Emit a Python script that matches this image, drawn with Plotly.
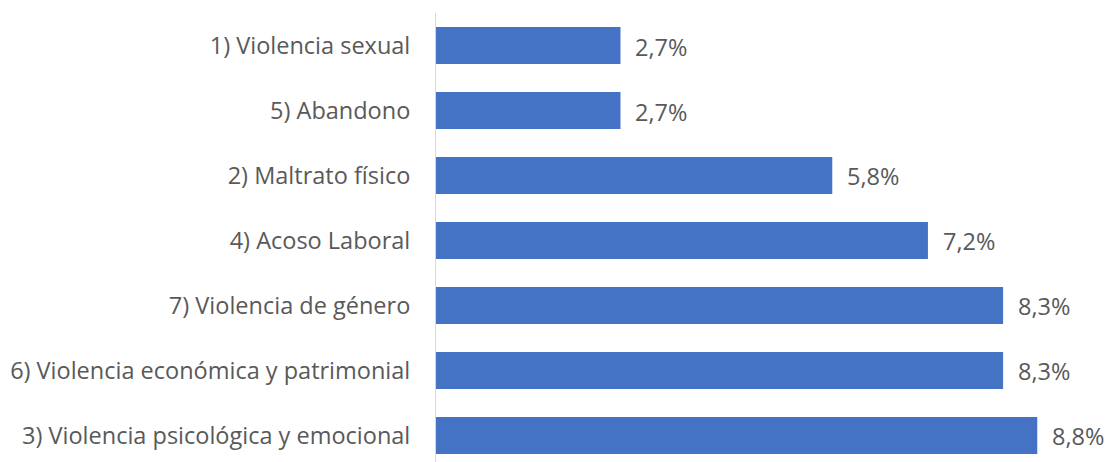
import plotly.graph_objects as go

categories = [
    "1) Violencia sexual",
    "5) Abandono",
    "2) Maltrato físico",
    "4) Acoso Laboral",
    "7) Violencia de género",
    "6) Violencia económica y patrimonial",
    "3) Violencia psicológica y emocional",
]
values = [2.7, 2.7, 5.8, 7.2, 8.3, 8.3, 8.8]
labels = [f"{v:.1f}%".replace(".", ",") for v in values]

FONT = "Open Sans"
GRAY = "#595959"
FS = 23.5

fig = go.Figure()
fig.add_trace(go.Bar(
    x=values, y=categories, orientation="h",
    marker=dict(color="#4472C4", line=dict(width=0)),
    width=0.57, hoverinfo="skip",
))

for v, c, t in zip(values, categories, labels):
    fig.add_annotation(x=v, y=c, text=t, showarrow=False, xanchor="left",
                       xshift=13, yshift=-1,
                       font=dict(family=FONT, size=FS, color=GRAY))

fig.update_layout(
    width=1109, height=462,
    margin=dict(l=436, r=0, t=13, b=0),
    paper_bgcolor="white", plot_bgcolor="white",
    showlegend=False,
    font=dict(family=FONT, size=FS, color=GRAY),
    xaxis=dict(range=[0, 9.85], visible=False, showgrid=False, zeroline=False),
    yaxis=dict(
        type="category", categoryorder="array", categoryarray=categories,
        range=[6.408, -0.5], showline=True, linecolor="#d9d9d9", linewidth=1,
        showgrid=False, zeroline=False, ticks="", ticklabelstandoff=20,
        tickfont=dict(family=FONT, size=FS, color=GRAY),
    ),
)

fig.write_html("out.html")
